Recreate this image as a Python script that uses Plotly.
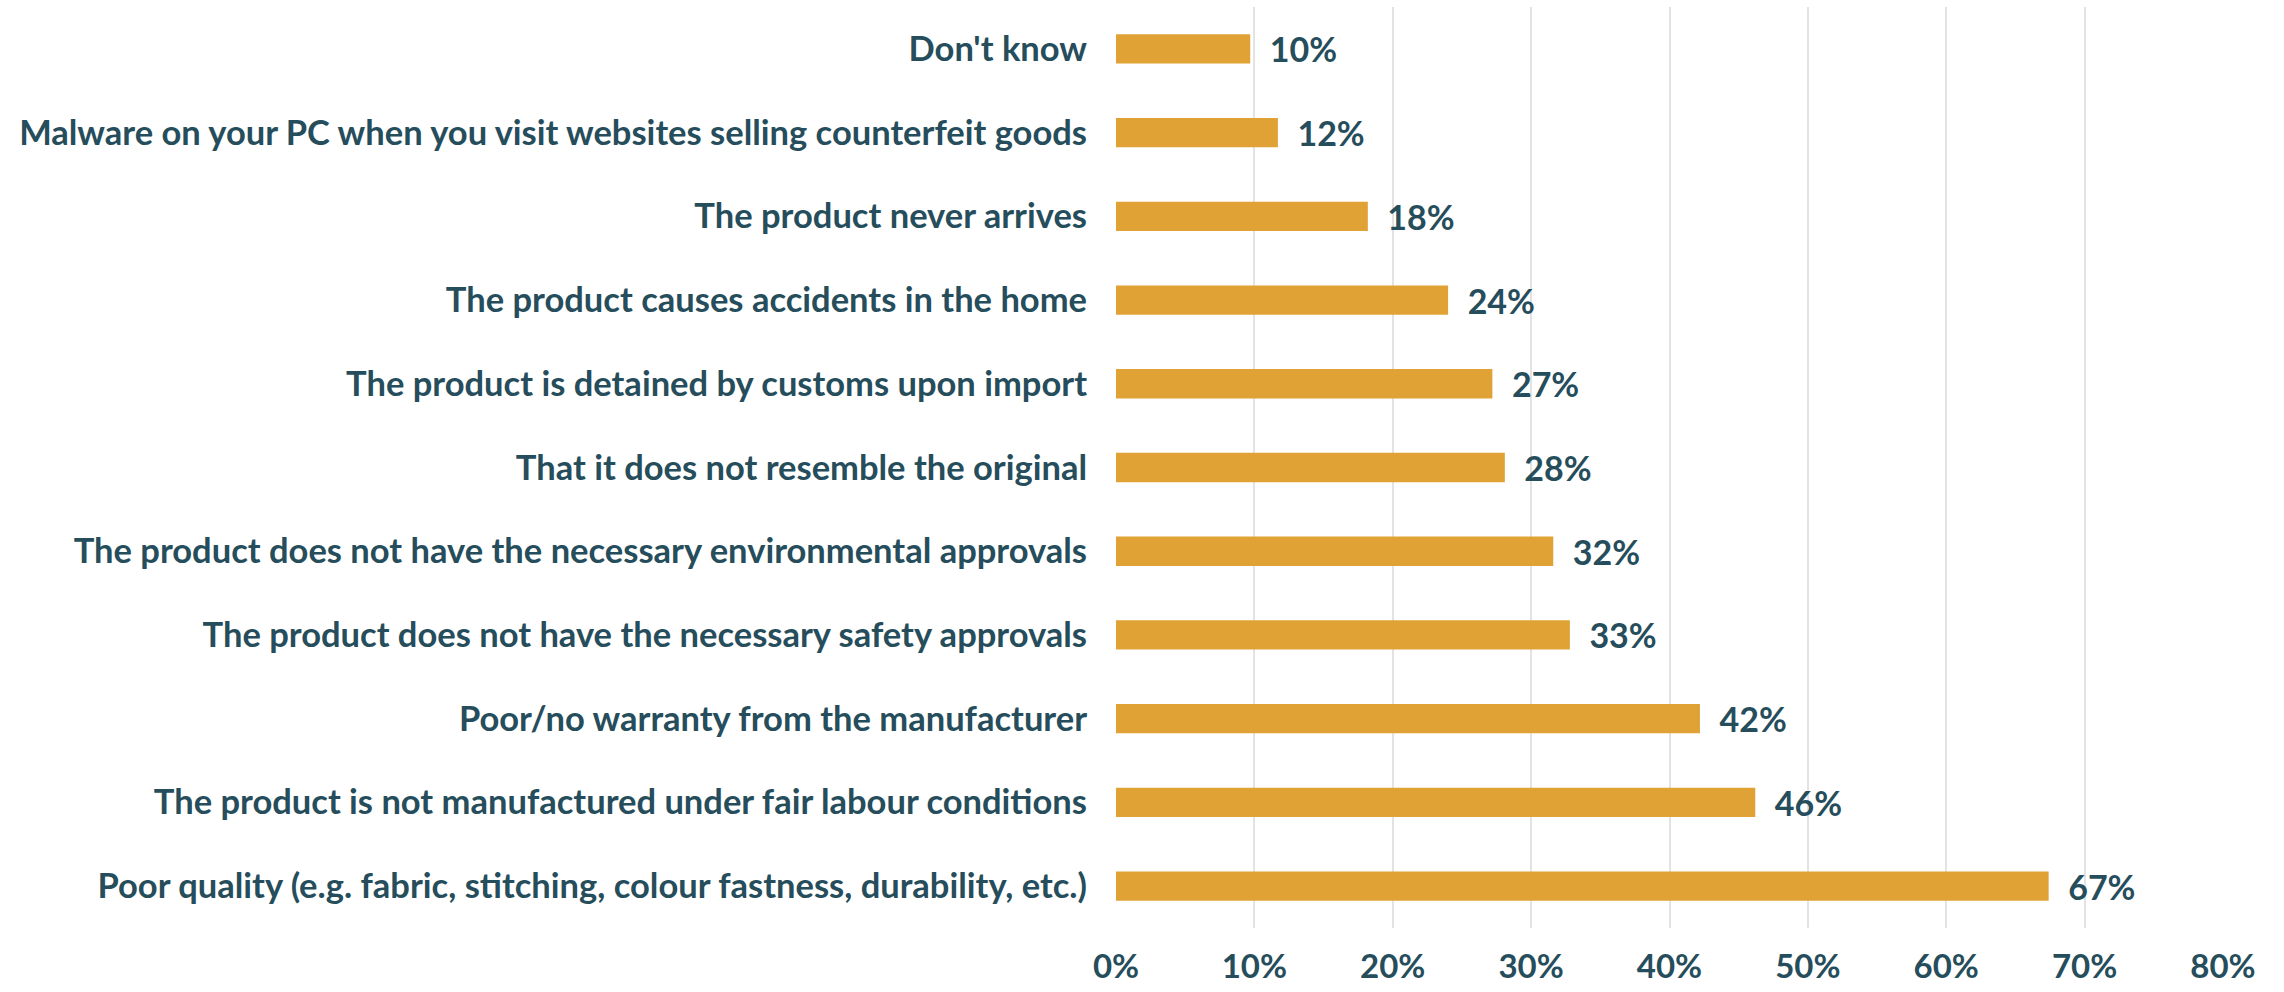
import plotly.graph_objects as go

categories = [
    "Poor quality (e.g. fabric, stitching, colour fastness, durability, etc.)",
    "The product is not manufactured under fair labour conditions",
    "Poor/no warranty from the manufacturer",
    "The product does not have the necessary safety approvals",
    "The product does not have the necessary environmental approvals",
    "That it does not resemble the original",
    "The product is detained by customs upon import",
    "The product causes accidents in the home",
    "The product never arrives",
    "Malware on your PC when you visit websites selling counterfeit goods",
    "Don't know",
]
values = [67.4, 46.2, 42.2, 32.8, 31.6, 28.1, 27.2, 24.0, 18.2, 11.7, 9.7]
tick_vals = [0, 10, 20, 30, 40, 50, 60, 70, 80]
tick_text = ["0%", "10%", "20%", "30%", "40%", "50%", "60%", "70%", "80%"]

TEXT = "#264D5B"
BAR = "#E0A234"
FONT = "Lato"

fig = go.Figure(go.Bar(
    x=values, y=categories, orientation="h",
    marker=dict(color=BAR, line=dict(width=0)),
    width=0.35,
    texttemplate="\u00a0\u00a0%{x:.0f}%", textposition="outside",
    constraintext="none",
    textfont=dict(family=FONT, size=34, color=TEXT, weight="bold"),
    cliponaxis=False,
))
fig.update_layout(
    width=2284, height=992,
    margin=dict(l=1116, r=61, t=7, b=60),
    paper_bgcolor="white", plot_bgcolor="white",
    showlegend=False,
    font=dict(family=FONT, color=TEXT),
    xaxis=dict(range=[0, 80], tickvals=tick_vals, ticktext=tick_text,
               showgrid=True, gridcolor="#E3E3E3", gridwidth=1.5,
               zeroline=False, showline=False,
               tickfont=dict(family=FONT, size=33, color=TEXT, weight="bold"),
               ticklabelstandoff=16),
    yaxis=dict(categoryorder="array", categoryarray=categories,
               range=[-0.5, 10.5], showgrid=False, zeroline=False,
               showline=False, automargin=False,
               tickfont=dict(family=FONT, size=34.5, color=TEXT, weight="bold"),
               ticklabelstandoff=28),
)
fig.write_html("out.html")
